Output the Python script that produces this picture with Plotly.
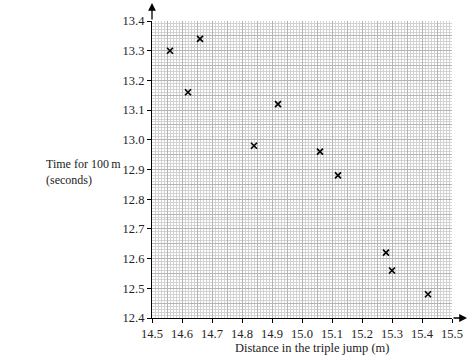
import plotly.graph_objects as go

distance = [14.56, 14.62, 14.66, 14.84, 14.92, 15.06, 15.12, 15.28, 15.30, 15.42]
time_100m = [13.30, 13.16, 13.34, 12.98, 13.12, 12.96, 12.88, 12.62, 12.56, 12.48]

x_ticks = [round(14.5 + 0.1 * i, 1) for i in range(11)]
y_ticks = [round(12.4 + 0.1 * i, 1) for i in range(11)]
x_range = [14.5, 15.5]
y_range = [12.4, 13.4]

FONT = "Liberation Serif, Times New Roman, serif"

fig = go.Figure()
fig.add_trace(go.Scatter(
    x=distance, y=time_100m, mode="markers",
    marker=dict(symbol="x-thin", size=6, line=dict(color="black", width=1.6)),
    showlegend=False, hoverinfo="skip"))

# invisible trace on secondary axes for 0.05 grid lines
fig.add_trace(go.Scatter(x=[None], y=[None], xaxis="x2", yaxis="y2", showlegend=False))

axis_common = dict(
    showline=True, linecolor="black", linewidth=1.2,
    ticks="outside", ticklen=4, tickcolor="black", tickwidth=1,
    showgrid=True, gridcolor="#a0a0a0", gridwidth=1,
    zeroline=False,
    tickfont=dict(family=FONT, size=12.5, color="#222"),
    minor=dict(dtick=0.01, showgrid=True, gridcolor="#d2d2d2", gridwidth=1, ticks=""),
)

fig.update_layout(
    width=474, height=363,
    margin=dict(l=152, r=22, t=21, b=45),
    plot_bgcolor="white", paper_bgcolor="white",
    xaxis=dict(range=x_range, tickvals=x_ticks, ticktext=[f"{v:.1f}" for v in x_ticks], **axis_common),
    yaxis=dict(range=y_range, tickvals=y_ticks, ticktext=[f"{v:.1f}" for v in y_ticks], **axis_common),
    xaxis2=dict(range=x_range, overlaying="x", dtick=0.05, tick0=14.5, showticklabels=False,
                showgrid=True, gridcolor="#b4b4b4", gridwidth=1, zeroline=False, showline=False, layer="below traces"),
    yaxis2=dict(range=y_range, overlaying="y", dtick=0.05, tick0=12.4, showticklabels=False,
                showgrid=True, gridcolor="#b4b4b4", gridwidth=1, zeroline=False, showline=False, layer="below traces"),
    annotations=[
        dict(text="Distance in the triple jump (m)", xref="paper", yref="paper", x=0.5 + 10 / 300, y=0,
             yshift=-30, showarrow=False, yanchor="middle", font=dict(family=FONT, size=12.5, color="#222")),
        dict(text="Time for 100\u2009m<br>(seconds)", xref="paper", yref="paper", x=-0.36, y=0.49,
             xanchor="left", yanchor="middle", align="left", showarrow=False,
             font=dict(family=FONT, size=12, color="#222")),
        dict(text="", xref="paper", yref="paper", x=0, y=1 + 18 / 297, ax=0, ay=18,
             showarrow=True, arrowhead=2, arrowsize=1.2, arrowwidth=1.3, arrowcolor="black"),
        dict(text="", xref="paper", yref="paper", x=1 + 15 / 300, y=0, ax=-15, ay=0,
             showarrow=True, arrowhead=2, arrowsize=1.2, arrowwidth=1.3, arrowcolor="black"),
    ],
)

fig.write_html("out.html")
